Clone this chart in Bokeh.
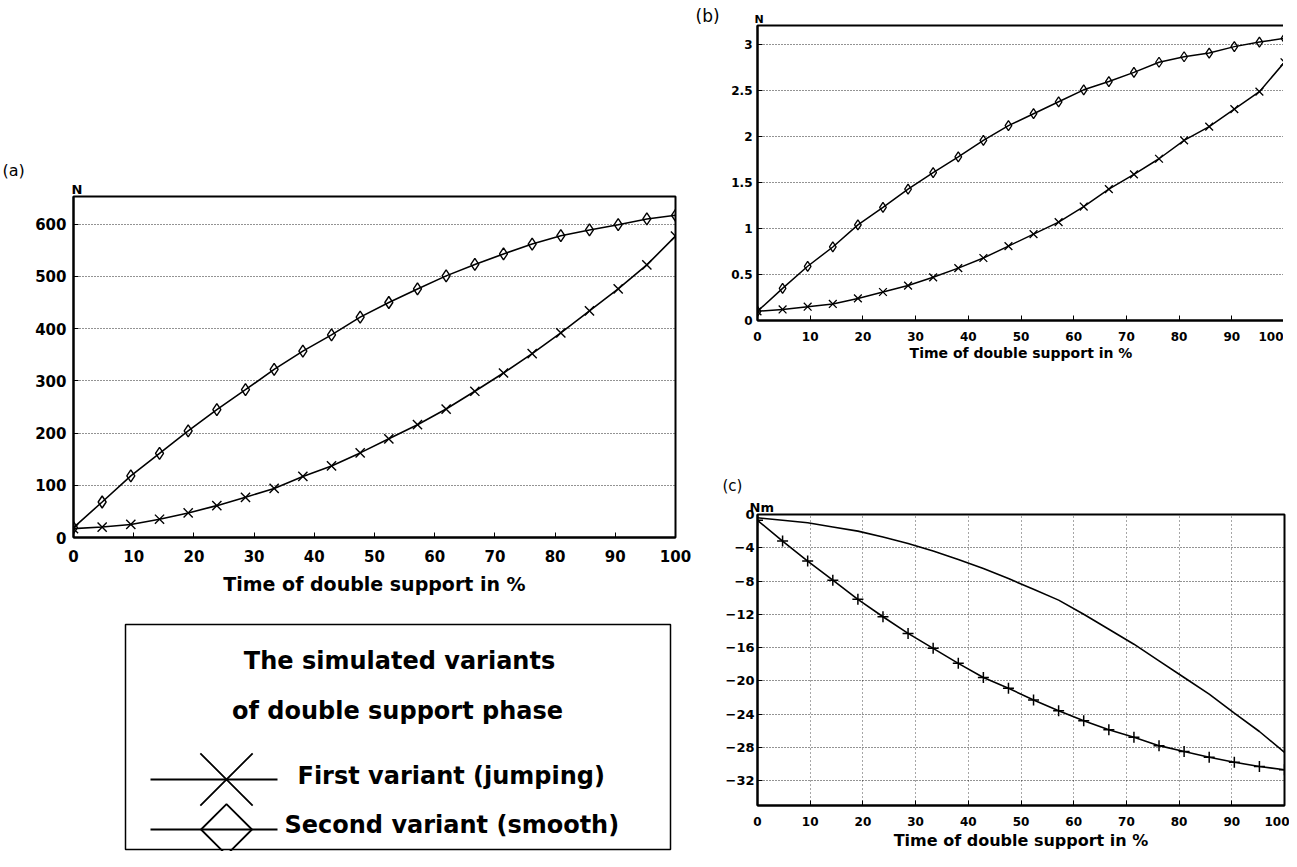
from bokeh.plotting import figure
from bokeh.layouts import row, column
from bokeh.models import Spacer, Title, FixedTicker, NumeralTickFormatter, Range1d
from bokeh.embed import file_html
from bokeh.resources import INLINE
from bokeh.core.properties import value

# ---------------- data ----------------
time_pct = [0, 4.76, 9.52, 14.29, 19.05, 23.81, 28.57, 33.33, 38.10, 42.86, 47.62,
            52.38, 57.14, 61.90, 66.67, 71.43, 76.19, 80.95, 85.71, 90.48, 95.24, 100]
x_ticks = [0, 10, 20, 30, 40, 50, 60, 70, 80, 90, 100]

a_first = [17, 20, 25, 35, 47, 61, 77, 94, 117, 137, 162, 189, 216, 246, 280, 315,
           352, 392, 434, 476, 522, 577]
a_second = [19, 68, 118, 161, 204, 245, 283, 322, 357, 388, 422, 450, 476, 501, 523,
            543, 562, 578, 589, 599, 610, 617]
a_ticks = [0, 100, 200, 300, 400, 500, 600]

b_first = [0.10, 0.12, 0.15, 0.18, 0.24, 0.31, 0.38, 0.47, 0.57, 0.68, 0.81, 0.94,
           1.07, 1.24, 1.43, 1.59, 1.76, 1.96, 2.11, 2.30, 2.49, 2.81]
b_second = [0.10, 0.35, 0.59, 0.80, 1.04, 1.23, 1.43, 1.61, 1.78, 1.96, 2.12, 2.25,
            2.38, 2.51, 2.60, 2.70, 2.81, 2.87, 2.91, 2.98, 3.03, 3.07]
b_ticks = [0, 0.5, 1, 1.5, 2, 2.5, 3]

c_first = [-0.7, -3.2, -5.6, -7.9, -10.2, -12.3, -14.3, -16.1, -17.9, -19.6, -20.9,
           -22.3, -23.6, -24.8, -25.9, -26.8, -27.8, -28.5, -29.2, -29.8, -30.3, -30.7]
c_second = [-0.4, -0.7, -1.0, -1.5, -2.0, -2.7, -3.5, -4.4, -5.4, -6.5, -7.7, -9.0,
            -10.3, -12.0, -13.8, -15.6, -17.6, -19.6, -21.6, -23.9, -26.1, -28.6]
c_ticks = [0, -4, -8, -12, -16, -20, -24, -28, -32]

x_title = "Time of double support in %"
legend_title = ["The simulated variants", "of double support phase"]
legend_names = ["First variant (jumping)", "Second variant (smooth)"]

FONT = "DejaVu Sans"


def panel(frame_w, frame_h, borders, y_range, y_ticks, tick_px, xt_px, title_px,
          x_standoff, title_standoff, y_standoff):
    left, right, top, bottom = borders
    p = figure(frame_width=frame_w, frame_height=frame_h,
               min_border_left=left, min_border_right=right,
               min_border_top=top, min_border_bottom=bottom,
               x_range=Range1d(0, 100), y_range=Range1d(*y_range),
               title_location=None,
               output_backend="svg", toolbar_location=None)
    p.outline_line_color = "black"
    p.outline_line_width = 2
    p.outline_line_alpha = 1
    p.background_fill_color = "white"
    p.border_fill_color = "white"
    p.xaxis.ticker = FixedTicker(ticks=x_ticks)
    p.yaxis.ticker = FixedTicker(ticks=y_ticks)
    for ax in p.axis:
        ax.axis_line_color = "black"
        ax.axis_line_width = 2
        ax.major_tick_in = 5
        ax.major_tick_out = 0
        ax.minor_tick_in = 0
        ax.minor_tick_out = 0
        ax.major_tick_line_color = "black"
        ax.major_label_text_font = FONT
        ax.major_label_text_font_style = "bold"
        ax.major_label_text_color = "black"
    p.yaxis.major_label_text_font_size = f"{tick_px}px"
    p.xaxis.major_label_text_font_size = f"{xt_px}px"
    p.xaxis.major_label_standoff = x_standoff
    p.yaxis.major_label_standoff = y_standoff
    p.xaxis.axis_label = x_title
    p.xaxis.axis_label_text_font = FONT
    p.xaxis.axis_label_text_font_style = "bold"
    p.xaxis.axis_label_text_font_size = f"{title_px}px"
    p.xaxis.axis_label_text_color = "black"
    p.xaxis.axis_label_standoff = title_standoff
    p.ygrid.grid_line_color = "black"
    p.ygrid.grid_line_dash = "1 2"
    p.ygrid.grid_line_alpha = 0.85
    p.xgrid.visible = False
    return p


def add_title(p, text, offset, standoff, size, bold):
    p.add_layout(Title(text=text, align="left", offset=offset, standoff=standoff,
                       text_font=FONT, text_font_style="bold" if bold else "normal",
                       text_font_size=f"{size}px", text_color="black"), "above")


def blank(frame_h, top, bottom, x_range, y_range):
    p = figure(frame_width=602, frame_height=frame_h, x_range=x_range, y_range=y_range,
               min_border_left=73, min_border_right=47, min_border_top=top,
               min_border_bottom=bottom, x_axis_location=None, y_axis_location=None,
               title_location=None, output_backend="svg", toolbar_location=None)
    p.outline_line_color = None
    p.xgrid.visible = False
    p.ygrid.visible = False
    return p


# ---------------- panel (a) ----------------
pa = panel(602, 341, (73, 47, 38, 67), (0, 653), a_ticks, 15, 15, 19, 12, 8, 7)
pa.line(time_pct, a_first, line_color="black", line_width=1.6)
pa.line(time_pct, a_second, line_color="black", line_width=1.6)
pa.scatter(time_pct, a_first, marker="x", size=13, line_color="black", line_width=1.4)
pa.scatter(time_pct, a_second, marker="diamond", size=12, line_color="black",
           fill_color=None, line_width=1.4)
add_title(pa, "N", -2, 0, 13, True)
add_title(pa, "(a)", -71, 0, 16, False)

# ---------------- panel (b) ----------------
pb = panel(527, 295, (27, 5, 25, 44), (0, 3.21), b_ticks, 12, 12, 14, 11, 1, 5)
pb.yaxis.formatter = NumeralTickFormatter(format="0.[0]")
pb.line(time_pct, b_first, line_color="black", line_width=1.5)
pb.line(time_pct, b_second, line_color="black", line_width=1.5)
pb.scatter(time_pct, b_first, marker="x", size=11, line_color="black", line_width=1.3)
pb.scatter(time_pct, b_second, marker="diamond", size=10, line_color="black",
           fill_color=None, line_width=1.3)
add_title(pb, "N", -3, 0, 11, True)

# ---------------- panel (c) ----------------
pc = panel(527, 291, (27, 5, 44, 46), (-35, 0), c_ticks, 13, 12, 16, 11, 2, 3)
pc.xgrid.visible = True
pc.xgrid.bounds = (40, 90)
pc.xgrid.grid_line_color = "black"
pc.xgrid.grid_line_dash = "1 3"
pc.xgrid.grid_line_alpha = 0.7
pc.line(time_pct, c_first, line_color="black", line_width=1.6)
pc.line(time_pct, c_second, line_color="black", line_width=1.6)
pc.scatter(time_pct, c_first, marker="cross", size=11, line_color="black", line_width=1.5)
add_title(pc, "Nm", -8, 0, 13, True)
add_title(pc, "(c)", -35, 5, 15, False)

# ---------------- top-left area: carries the "(b)" tag ----------------
ptop = blank(133, 25, 0, Range1d(0, 1), Range1d(0, 1))
add_title(ptop, "(b)", 622, 0, 17, False)

# ---------------- legend panel (frame aligned with panel a) ----------------
pl = blank(247, 0, 0, Range1d(81, 683), Range1d(859, 612))
box = dict(left=133, right=678, top=632, bottom=857)
pl.quad(left=box["left"], right=box["right"], top=box["top"], bottom=box["bottom"],
        fill_color=None, line_color="black", line_width=1.5)
pl.text(x=[407, 405], y=[668, 718], text=legend_title, text_font=value(FONT),
        text_font_style="bold", text_font_size="24px", text_align="center",
        text_baseline="middle", text_color="black")
pl.text(x=[305, 292], y=[783, 832], text=legend_names, text_font=value(FONT),
        text_font_style="bold", text_font_size="24px", text_align="left",
        text_baseline="middle", text_color="black")
pl.segment(x0=[158, 158], y0=[787, 837], x1=[285, 285], y1=[787, 837],
           line_color="black", line_width=1.8)
pl.scatter(x=[234], y=[787], marker="x", size=74, line_color="black", line_width=1.8)
pl.scatter(x=[234], y=[837], marker="square", size=36, angle=0.7854,
           line_color="black", fill_color=None, line_width=1.8)

left_col = column(ptop, pa, pl)
right_col = column(pb, Spacer(width=559, height=106), pc)
root = row(left_col, right_col)

open("out.html", "w").write(file_html(root, INLINE))
